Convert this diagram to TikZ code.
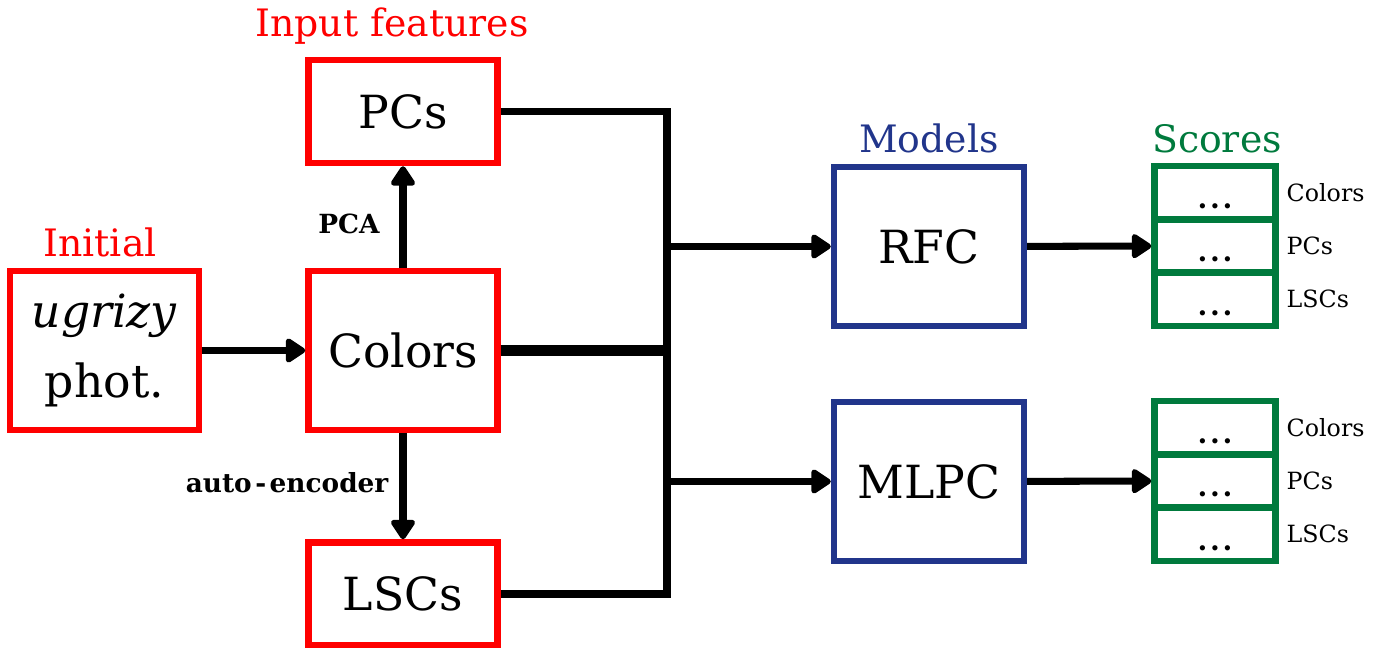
\documentclass[tikz,border=0pt]{standalone}
\usepackage{fontspec}
\setmainfont{DejaVu Serif}
\usetikzlibrary{arrows.meta,positioning}

\definecolor{featred}{RGB}{255,0,0}
\definecolor{modblue}{RGB}{33,53,139}
\definecolor{scgreen}{RGB}{0,122,61}

\newcommand{\scdots}{.\kern1.6pt.\kern1.6pt.}

\tikzset{
  box/.style={draw, line width=3.7pt, inner sep=0pt, align=center,
    minimum width=3.78cm, font=\fontsize{26}{40}\selectfont},
  feat/.style={box, featred, text=black},
  model/.style={box, modblue, text=black, minimum width=3.8cm, minimum height=3.18cm},
  row/.style={draw=scgreen, line width=3.7pt, minimum width=2.42cm, minimum height=1.066cm,
    inner sep=0pt, text height=18pt, text depth=0pt, font=\fontsize{16}{18}\selectfont\bfseries},
  head/.style={anchor=base, font=\fontsize{21.5}{26}\selectfont},
  rowlab/.style={font=\fontsize{13.5}{16}\selectfont, right=1pt},
  steplab/.style={font=\fontsize{15}{18}\selectfont\bfseries},
  wire/.style={line width=4pt},
  flow/.style={wire, -{Triangle[length=12.5pt,width=15.5pt,round]}}
}

\begin{document}
\begin{tikzpicture}[x=0.02cm, y=-0.02cm]
\useasboundingbox (0,0) rectangle (1380,648);

% inputs
\node[feat, minimum height=3.18cm] (init) at (104.5,350.5) {\textit{ugrizy}\\phot.};
\node[feat, minimum height=3.18cm] (colors) at (403,350.5) {Colors};
\node[feat, minimum height=2.06cm] (pcs) at (403,111.5) {PCs};
\node[feat, minimum height=2.06cm] (lscs) at (403,594) {LSCs};

% models
\node[model] (rfc) at (929,246.5) {RFC};
\node[model] (mlpc) at (929,481.5) {MLPC};

% scores
\node[row] (sa1) at (1215,192.7) {\scdots};
\node[row] (sa2) at (1215,246) {\scdots};
\node[row] (sa3) at (1215,299.3) {\scdots};
\node[row] (sb1) at (1215,427.7) {\scdots};
\node[row] (sb2) at (1215,481) {\scdots};
\node[row] (sb3) at (1215,534.3) {\scdots};
\node[rowlab] (la1) at (sa1.east) {Colors};
\node[rowlab] (la2) at (sa2.east) {PCs};
\node[rowlab] (la3) at (sa3.east) {LSCs};
\node[rowlab] (lb1) at (sb1.east) {Colors};
\node[rowlab] (lb2) at (sb2.east) {PCs};
\node[rowlab] (lb3) at (sb3.east) {LSCs};

% headings
\node[head, featred] (hinit) at (100,257) {Initial};
\node[head, featred] (hfeat) at (392,37) {Input features};
\node[head, modblue] (hmod) at (929,153) {Models};
\node[head, scgreen] (hsc) at (1217,153) {Scores};

% bus
\coordinate (btop) at (667,111.5);
\coordinate (bmid) at (667,350.5);
\coordinate (bbot) at (667,594);
\coordinate (brfc) at (667,246.5);
\coordinate (bmlpc) at (667,481.5);

\draw[flow] (init) -- (colors);
\draw[flow] (colors) -- node[steplab, left=8pt, pos=0.43] (lpca) {PCA} (pcs);
\draw[flow] (colors) -- node[steplab, left=3pt, pos=0.47] (lae) {auto\kern2pt-\kern2pt encoder} (lscs);
\draw[wire] (pcs.east) -- (btop) -- (bbot) -- (lscs.east);
\draw[line width=5.7pt] (colors.east) -- (bmid);
\draw[flow] (brfc) -- (rfc);
\draw[flow] (bmlpc) -- (mlpc);
\draw[flow] (rfc) -- (sa2);
\draw[flow] (mlpc) -- (sb2);
\end{tikzpicture}
\end{document}
